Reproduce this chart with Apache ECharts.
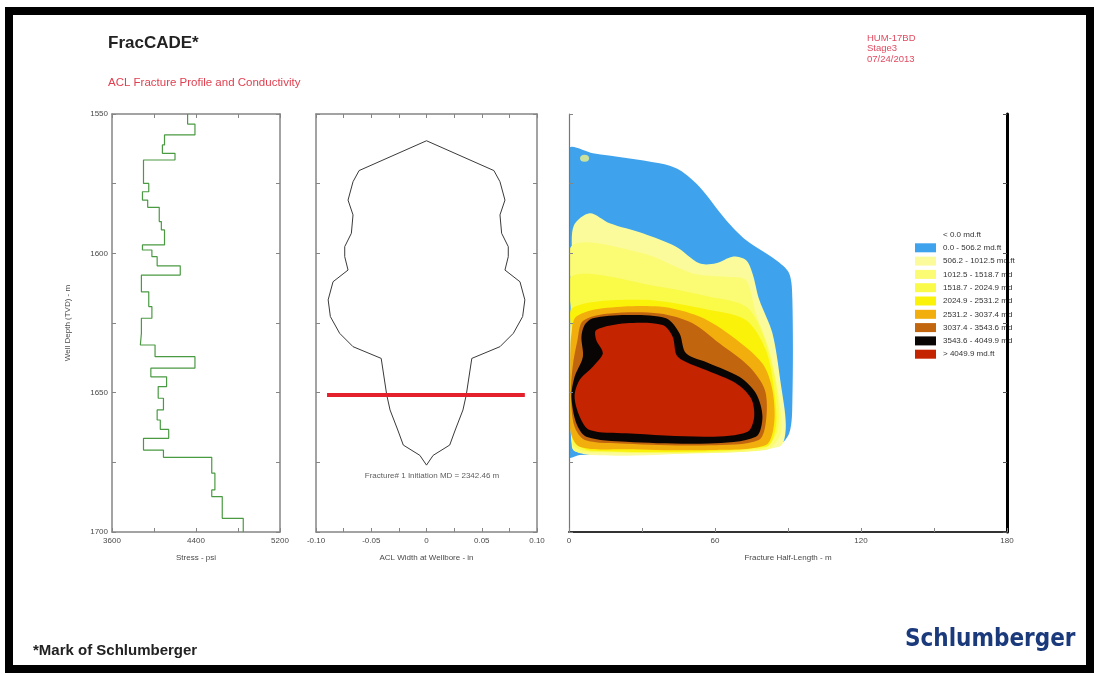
<!DOCTYPE html>
<html><head><meta charset="utf-8">
<script src="https://cdn.jsdelivr.net/npm/echarts@6/dist/echarts.min.js"></script>
<style>html,body{margin:0;padding:0;background:#fff}#c{width:1096px;height:675px}</style>
</head><body><div id="c"></div><script>
// ---------- DATA ----------
// Stress log: boundaries of depth intervals (m) and stress in each interval (psi)
const stressDepthBounds = [1550,1553.6,1557.5,1561.1,1564.1,1566.5,1574.9,1577.9,1580.9,1583.5,1588.6,1591.6,1597,1598.8,1601.2,1604.5,1607.8,1613.8,1619.1,1623.3,1628.7,1632.9,1637.1,1641.2,1644.3,1647.8,1652,1656.2,1659.8,1663.2,1666.4,1670.6,1673.2,1678.9,1684.9,1687.3,1695.1,1700];
const stressValues = [4320,4390,4100,4080,4200,3900,3950,3890,3940,4050,4070,4100,3890,3980,4030,4250,3880,3950,3980,3880,3870,4010,4390,3970,4120,4040,4090,4030,4060,4140,3900,4090,4550,4580,4550,4650,4850];
// Fracture width profile at wellbore (half width, in) vs depth (m)
const profileDepths = [1559.6,1570.3,1574.3,1580.9,1586.2,1592.8,1597.6,1601.2,1606,1610.2,1616.7,1622.7,1628.7,1633.5,1637.7,1650.8,1656.2,1663.4,1668.8,1672.5,1676];
const profileHalfWidths = [0,0.061,0.0665,0.071,0.0665,0.068,0.074,0.074,0.071,0.0846,0.089,0.087,0.0786,0.0665,0.041,0.036,0.033,0.026,0.021,0.006,0];
const initiationDepth = 1650.8;
const initiationSpan = [-0.09, 0.089];
const initiationText = 'Fracture# 1 Initiation MD = 2342.46 m';
// Conductivity contour zones: [half-length m, depth m]
const zoneBlue = [[0,1562.6],[9.8,1564.1],[37.2,1567.7],[45.4,1570.1],[53.6,1576.1],[64.5,1588],[72.7,1595.2],[85,1602.4],[90.5,1607.2],[91.8,1616.7],[91.8,1652.6],[90.5,1664.6],[85,1669.4],[50,1671.5],[4.4,1672.4],[0,1673.1]];
const zoneYellow1 = [[2,1590],[8.5,1585.6],[16.7,1589.2],[30.3,1592.8],[44,1597.6],[53.6,1603.6],[60.4,1603.6],[67.2,1601.2],[72.7,1602.4],[75.4,1607.2],[78.2,1616.7],[83.6,1628.7],[87,1646.6],[89.1,1662.2],[86.4,1669.4],[50.8,1671.7],[9.8,1672.4],[1.2,1669.4],[1.2,1600]];
const zoneYellow2 = [[1.5,1597],[30.3,1600],[50.8,1607.2],[64.5,1608.4],[72.7,1609.6],[76.8,1621.5],[82.3,1634.7],[86.4,1652.6],[87,1664.6],[80.9,1670.6],[9.8,1671.5],[1.5,1670],[1.5,1616.7]];
const zoneYellow3 = [[1.5,1608],[37.2,1612],[57.7,1615.6],[72.7,1619.1],[79.5,1628.7],[85,1646.6],[85.7,1663.4],[79.5,1670],[9.8,1671.1],[1.5,1668.2],[1.5,1625]];
const zoneYellow4 = [[1.5,1619.5],[30.3,1616.7],[57.7,1620.3],[72.7,1623.9],[80.9,1634.7],[84.3,1649],[85,1662.2],[80.9,1669.4],[9.8,1670.8],[1.5,1666.5],[1.5,1630]];
const zoneOrange = [[3,1622.7],[13.9,1619.7],[37.2,1619.1],[53.6,1622.7],[67.2,1629.9],[79.5,1639.5],[83.6,1649],[84.3,1661],[80.9,1668.8],[57.7,1670.6],[23.5,1670.3],[4.4,1669.4],[0.5,1663.4],[0.5,1640.7],[1,1628.7]];
const zoneBrown = [[5.7,1624.3],[16.7,1621.6],[37.2,1621.6],[50.8,1625.1],[61.8,1632.3],[74.1,1640.7],[80.5,1649],[81,1659.8],[78,1667],[57.7,1668.9],[23.5,1668.3],[6.5,1667],[2.2,1662],[0.8,1651.4],[1.5,1640.7],[3.5,1631.1]];
const zoneBlack = [[6.4,1625.7],[9.8,1623.3],[23.5,1622.1],[39.9,1623.3],[45.4,1628.7],[48.1,1635.9],[57.7,1639.5],[70,1644.3],[76.8,1650.2],[79.5,1658.6],[76.8,1665.8],[57.7,1668.2],[23.5,1667.6],[7.1,1665.8],[3,1661],[1,1651.4],[2.3,1644.3],[5.7,1637.1],[5.1,1630]];
const zoneRed = [[11.2,1627.5],[23.5,1625.1],[38.5,1625.7],[42.6,1629.9],[44.7,1637.1],[56.3,1641.9],[68.6,1646.6],[74.8,1652],[76.1,1658.6],[73.4,1664],[57.7,1665.8],[23.5,1664.6],[8.5,1663.4],[4.4,1658.6],[2.3,1651.4],[4.4,1645.4],[9.8,1640.7],[13.9,1635.9],[11.2,1631.1]];
const smallSpot = [[6.4,1565.9]];
const legendNames = ['< 0.0 md.ft','0.0 - 506.2 md.ft','506.2 - 1012.5 md.ft','1012.5 - 1518.7 md','1518.7 - 2024.9 md','2024.9 - 2531.2 md','2531.2 - 3037.4 md','3037.4 - 3543.6 md','3543.6 - 4049.9 md','> 4049.9 md.ft'];
const headerLines = ['HUM-17BD','Stage3','07/24/2013'];

// ---------- BUILD ----------
const stressLine = [];
stressValues.forEach((s,i)=>{ stressLine.push([s,stressDepthBounds[i]]); stressLine.push([s,stressDepthBounds[i+1]]); });
const profileLine = [];
profileDepths.forEach((d,i)=>profileLine.push([profileHalfWidths[i],d]));
for (let i=profileDepths.length-1;i>=0;i--) profileLine.push([-profileHalfWidths[i],profileDepths[i]]);

const zoneColors = ['#ffffff','#3fa2ec','#fbfb9c','#fbfb74','#fafa48','#fbf20a','#f2ae0c','#c2650f','#0a0505','#c42400'];
const zones = [null, zoneBlue, zoneYellow1, zoneYellow2, zoneYellow3, zoneYellow4, zoneOrange, zoneBrown, zoneBlack, zoneRed];

const GRAY = '#858585', LBL = '#4a4a4a', FONT = 'Liberation Sans, Arial, sans-serif';
function depthAxis(gi, pos, show, extra) {
  return Object.assign({type:'value', gridIndex:gi, position:pos, min:1550, max:1700, interval:25, inverse:true,
    axisLine:{show:true, onZero:false, lineStyle:{color:GRAY, width:1.5}},
    axisTick:{show:true, inside:true, length:4, lineStyle:{color:GRAY}},
    axisLabel:{show:show, fontSize:8, color:LBL, fontFamily:FONT, margin:4, formatter:v=>(v%50===0?String(v):'')},
    splitLine:{show:false}}, extra||{});
}
function xAx(gi, pos, min, max, interval, fmt, name, extra) {
  return Object.assign({type:'value', gridIndex:gi, position:pos, min, max, interval,
    axisLine:{show:true, onZero:false, lineStyle:{color:GRAY, width:1.5}},
    axisTick:{show:true, inside:true, length:4, lineStyle:{color:GRAY}},
    axisLabel:{show:!!fmt, fontSize:8, color:LBL, fontFamily:FONT, margin:5, formatter:fmt||undefined, showMinLabel:true, showMaxLabel:true},
    splitLine:{show:false}, name:name||'', nameLocation:'middle', nameGap:22,
    nameTextStyle:{fontSize:8, color:LBL, fontFamily:FONT}}, extra||{});
}

const series = [
  {type:'line', xAxisIndex:0, yAxisIndex:0, data:stressLine, showSymbol:false, symbol:'none', lineStyle:{color:'#4a9a42', width:1.2}, silent:true, animation:false},
  {type:'line', xAxisIndex:2, yAxisIndex:2, data:profileLine, showSymbol:false, symbol:'none', lineStyle:{color:'#3a3a3a', width:1}, silent:true, animation:false},
  {type:'line', xAxisIndex:2, yAxisIndex:2, data:[[initiationSpan[0],initiationDepth],[initiationSpan[1],initiationDepth]], symbol:'none', lineStyle:{color:'#e3202c', width:4}, silent:true, animation:false},
  {type:'scatter', xAxisIndex:2, yAxisIndex:2, data:[[0.005,1679.8]], symbolSize:0, silent:true, animation:false,
    label:{show:true, position:'inside', formatter:initiationText, fontSize:8, color:'#333', fontFamily:FONT}}
];
zones.forEach((pts,k)=>{
  const color = zoneColors[k];
  series.push({type:'custom', name:legendNames[k], coordinateSystem:'cartesian2d', xAxisIndex:4, yAxisIndex:4,
    data: pts || [], itemStyle:{color:color}, z:2+k, silent:true, animation:false, clip:true,
    renderItem:(params, api)=>{
      if (params.dataIndex!==0) return null;
      return {type:'polygon', shape:{points:pts.map(p=>api.coord(p)), smooth:0.3}, style:{fill:color}};
    }});
});
series.push({type:'scatter', xAxisIndex:4, yAxisIndex:4, data:smallSpot, symbol:'circle', symbolSize:[9,7], itemStyle:{color:'#eef08a'}, z:20, silent:true, animation:false});

const option = {
  backgroundColor:'#fff',
  animation:false,
  grid:[
    {left:112, top:114, width:168, height:418},
    {left:316, top:114, width:221, height:418},
    {left:569, top:114, width:438, height:418}
  ],
  xAxis:[
    xAx(0,'bottom',3600,5200,400,v=>([3600,4400,5200].includes(v)?String(v):''),'Stress - psi'),
    xAx(0,'top',3600,5200,400,null,''),
    xAx(1,'bottom',-0.1,0.1,0.025,v=>{const m=Math.round(v*1000); return m%50===0?(m===0?'0':(m/1000).toFixed(2)):'';},'ACL Width at Wellbore - in'),
    xAx(1,'top',-0.1,0.1,0.025,null,''),
    xAx(2,'bottom',0,180,30,v=>(v%60===0?String(v):''),'Fracture Half-Length - m',{axisLine:{show:true,onZero:false,lineStyle:{color:'#333',width:2}}, z:10})
  ],
  yAxis:[
    depthAxis(0,'left',true,{name:'Well Depth (TVD) - m', nameLocation:'middle', nameGap:40, nameTextStyle:{fontSize:8,color:LBL,fontFamily:FONT}}),
    depthAxis(0,'right',false),
    depthAxis(1,'left',false),
    depthAxis(1,'right',false),
    depthAxis(2,'left',false,{axisLine:{show:true,onZero:false,lineStyle:{color:'#777',width:1.2}}, z:10}),
    depthAxis(2,'right',false,{axisLine:{show:true,onZero:false,lineStyle:{color:'#000',width:3}}, axisTick:{show:true,inside:true,length:4,lineStyle:{color:'#555'}}, z:10})
  ],
  legend:{orient:'vertical', left:910, top:225, itemWidth:21, itemHeight:9, itemGap:4.3, selectedMode:false, z:1,
    data: legendNames.map((n,k)=>({name:n, icon:'rect', itemStyle: k===0?{opacity:0}:{color:zoneColors[k]}})),
    textStyle:{fontSize:8, color:'#333', fontFamily:FONT, padding:[0,0,0,2]}},
  graphic:[
    {type:'rect', shape:{x:9, y:11, width:1081, height:658}, style:{fill:'none', stroke:'#000', lineWidth:8}, z:100, silent:true},
    {type:'text', left:108, top:35, style:{text:'FracCADE*', font:'bold 17px '+FONT, fill:'#222'}},
    {type:'text', left:108, top:77, style:{text:'ACL Fracture Profile and Conductivity', font:'11.5px '+FONT, fill:'#e04050'}},
    {type:'text', left:867, top:33, style:{text:headerLines.join('\n'), font:'9.5px '+FONT, fill:'#e04b60', lineHeight:10.5}},
    {type:'text', left:33, top:643, style:{text:'*Mark of Schlumberger', font:'bold 15px '+FONT, fill:'#222'}},
    {type:'text', left:905, top:628, style:{text:'Schlumberger', font:'bold 24px "Liberation Sans Narrow", "DejaVu Sans Condensed", sans-serif', fill:'#1b3a7c'}}
  ],
  series
};
const chart = echarts.init(document.getElementById('c'), null, {renderer:'canvas'});
chart.setOption(option);
</script></body></html>
